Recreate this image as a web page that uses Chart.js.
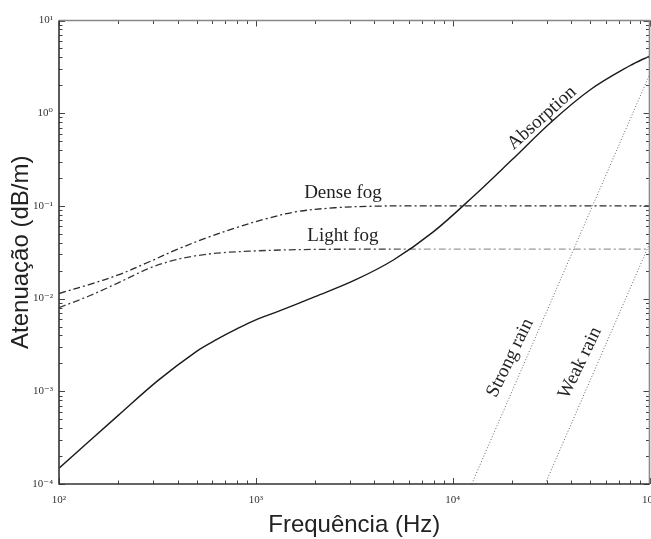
<!DOCTYPE html>
<html>
<head>
<meta charset="utf-8">
<title>Atenuação x Frequência</title>
<script src="https://cdn.jsdelivr.net/npm/chart.js@4.4.1/dist/chart.umd.min.js"></script>
<style>
  html, body { margin: 0; padding: 0; background: #fff; }
  canvas { display: block; }
</style>
</head>
<body>
<canvas id="attChart" width="651" height="539"></canvas>
<script>
/* Attenuation in air (dB/m) against frequency, log-log. */

// Absorption curve
var absFreq = [100, 200, 320, 500, 630, 800, 1000, 1260, 2000, 3160, 5000, 7940, 12600, 20000, 31600, 50000, 79400, 100000];
var absVal = [1.48e-4, 5.5e-4, 1.32e-3, 2.7e-3, 3.6e-3, 4.7e-3, 5.9e-3, 7.1e-3, 0.0105, 0.0157, 0.0261, 0.0521, 0.124, 0.314, 0.80, 1.79, 3.25, 4.14];

// Fog curves
var denseFreq = [100, 141, 200, 282, 398, 562, 794, 1122, 1585, 2512, 3981, 6310, 100000];
var denseFog = [0.01135, 0.0141, 0.018, 0.0245, 0.0339, 0.0452, 0.0582, 0.0724, 0.0861, 0.0955, 0.0993, 0.1, 0.1];
var lightFreq = [100, 141, 200, 282, 355, 447, 631, 1000, 1585, 3162, 100000];
var lightFog = [0.008, 0.0106, 0.0148, 0.0209, 0.0248, 0.0279, 0.0309, 0.0327, 0.0337, 0.0341, 0.0341];

// Rain lines (straight in log-log)
var strongRainFreq = [12500, 100000];
var strongRain = [1e-4, 2.6];
var weakRainFreq = [29500, 100000];
var weakRain = [1e-4, 0.039];

// Axis ticks
var xTickValues = [1e2, 1e3, 1e4, 1e5];
var xTickLabels = ["10²", "10³", "10⁴", "10⁵"];
var yTickValues = [1e-4, 1e-3, 1e-2, 1e-1, 1e0, 1e1];
var yTickLabels = ["10⁻⁴", "10⁻³", "10⁻²", "10⁻¹", "10⁰", "10¹"];

function pairs(xs, ys) {
    return xs.map(function (x, i) {
        return { x: x, y: ys[i] };
    });
}

// Curve names, anchored in data coordinates
var curveNames = [
    { text: "Absorption", f: 28400, a: 0.887, angle: -42 },
    { text: "Dense fog", f: 2770, a: 0.138, angle: 0 },
    { text: "Light fog", f: 2770, a: 0.0473, angle: 0 },
    { text: "Strong rain", f: 19600, a: 0.00229, angle: -64 },
    { text: "Weak rain", f: 44400, a: 0.00202, angle: -64 }
];

// 1..9 x 10^k values between min and max
function logSteps(min, max) {
    var out = [];
    var lo = Math.round(Math.log10(min));
    var hi = Math.round(Math.log10(max));
    for (var d = lo; d < hi; d++) {
        for (var m = 1; m <= 9; m++) {
            out.push({ v: m * Math.pow(10, d), major: m === 1 });
        }
    }
    out.push({ v: Math.pow(10, hi), major: true });
    return out;
}

// Light fog fades to grey once it passes under the absorption curve
function lightFogColor(context) {
    var chart = context.chart;
    var area = chart.chartArea;
    if (!area) return "#444";
    var g = chart.ctx.createLinearGradient(area.left, 0, area.right, 0);
    g.addColorStop(0, "#3a3a3a");
    g.addColorStop(0.55, "#3a3a3a");
    g.addColorStop(0.62, "#9a9a9a");
    g.addColorStop(1, "#9a9a9a");
    return g;
}

var frameTicks = {
    id: "frameTicks",
    afterDatasetsDraw: function (chart) {
        var ctx = chart.ctx;
        var area = chart.chartArea;
        var xs = chart.scales.x;
        var ys = chart.scales.y;

        ctx.save();
        ctx.strokeStyle = "#444";
        ctx.lineWidth = 1;
        ctx.beginPath();
        logSteps(xs.min, xs.max).forEach(function (t) {
            var px = Math.round(xs.getPixelForValue(t.v)) + 0.5;
            var len = t.major ? 6 : 3.5;
            ctx.moveTo(px, area.bottom);
            ctx.lineTo(px, area.bottom - len);
            ctx.moveTo(px, area.top);
            ctx.lineTo(px, area.top + len);
        });
        logSteps(ys.min, ys.max).forEach(function (t) {
            var py = Math.round(ys.getPixelForValue(t.v)) + 0.5;
            var len = t.major ? 6 : 3.5;
            ctx.moveTo(area.left, py);
            ctx.lineTo(area.left + len, py);
            ctx.moveTo(area.right, py);
            ctx.lineTo(area.right - len, py);
        });
        ctx.stroke();

        // frame: darker on the left and bottom
        ctx.lineWidth = 1.6;
        ctx.strokeStyle = "#888";
        ctx.beginPath();
        ctx.moveTo(area.left, area.top);
        ctx.lineTo(area.right, area.top);
        ctx.lineTo(area.right, area.bottom);
        ctx.stroke();
        ctx.strokeStyle = "#333";
        ctx.beginPath();
        ctx.moveTo(area.left, area.top);
        ctx.lineTo(area.left, area.bottom);
        ctx.lineTo(area.right, area.bottom);
        ctx.stroke();

        // curve names
        ctx.fillStyle = "#222";
        ctx.font = "19px 'Liberation Serif', 'Times New Roman', serif";
        ctx.textAlign = "center";
        ctx.textBaseline = "middle";
        curveNames.forEach(function (n) {
            ctx.save();
            ctx.translate(xs.getPixelForValue(n.f), ys.getPixelForValue(n.a));
            ctx.rotate(n.angle * Math.PI / 180);
            ctx.fillText(n.text, 0, 0);
            ctx.restore();
        });
        ctx.restore();
    }
};

var tickFont = { family: "'Liberation Serif', 'DejaVu Serif', serif", size: 11 };
var titleFont = { family: "'Liberation Sans', Arial, sans-serif", size: 24, lineHeight: 1 };

new Chart(document.getElementById("attChart"), {
    type: "line",
    data: {
        datasets: [
            {
                label: "Absorption",
                data: pairs(absFreq, absVal),
                borderColor: "#1a1a1a",
                borderWidth: 1.4,
                tension: 0.35
            },
            {
                label: "Dense fog",
                data: pairs(denseFreq, denseFog),
                borderColor: "#2a2a2a",
                borderWidth: 1.3,
                borderDash: [7, 3, 2, 3],
                tension: 0.35
            },
            {
                label: "Light fog",
                data: pairs(lightFreq, lightFog),
                borderColor: lightFogColor,
                borderWidth: 1.3,
                borderDash: [7, 3, 2, 3],
                cubicInterpolationMode: "monotone"
            },
            {
                label: "Strong rain",
                data: pairs(strongRainFreq, strongRain),
                borderColor: "#666",
                borderWidth: 1,
                borderDash: [1, 2]
            },
            {
                label: "Weak rain",
                data: pairs(weakRainFreq, weakRain),
                borderColor: "#666",
                borderWidth: 1,
                borderDash: [1, 2]
            }
        ]
    },
    options: {
        responsive: false,
        animation: false,
        layout: { padding: { top: 20.5, right: 1.5, left: 0, bottom: 0 } },
        elements: { point: { radius: 0 } },
        plugins: { legend: { display: false }, tooltip: { enabled: false } },
        scales: {
            x: {
                type: "logarithmic",
                min: 100,
                max: 100000,
                grid: { display: false, drawTicks: false },
                border: { display: false },
                afterBuildTicks: function (s) {
                    s.ticks = xTickValues.map(function (v) { return { value: v }; });
                },
                afterFit: function (s) {
                    s.height = 55;
                    s.paddingLeft = 0;
                    s.paddingRight = 0;
                },
                ticks: {
                    autoSkip: false,
                    maxRotation: 0,
                    padding: 10,
                    color: "#333",
                    font: tickFont,
                    callback: function (v) {
                        var i = xTickValues.indexOf(v);
                        return i < 0 ? "" : xTickLabels[i];
                    }
                },
                title: {
                    display: true,
                    text: "Frequência (Hz)",
                    color: "#222",
                    font: titleFont,
                    padding: { top: 0, bottom: 2 }
                }
            },
            y: {
                type: "logarithmic",
                min: 1e-4,
                max: 10,
                grid: { display: false, drawTicks: false },
                border: { display: false },
                afterBuildTicks: function (s) {
                    s.ticks = yTickValues.map(function (v) { return { value: v }; });
                },
                afterFit: function (s) {
                    s.width = 59;
                    s.paddingTop = 0;
                    s.paddingBottom = 0;
                },
                ticks: {
                    autoSkip: false,
                    padding: 6,
                    color: "#333",
                    font: tickFont,
                    callback: function (v) {
                        var i = yTickValues.indexOf(v);
                        return i < 0 ? "" : yTickLabels[i];
                    }
                },
                title: {
                    display: true,
                    text: "Atenuação (dB/m)",
                    color: "#222",
                    font: titleFont,
                    padding: { top: 9, bottom: 0 }
                }
            }
        }
    },
    plugins: [frameTicks]
});
</script>
</body>
</html>
